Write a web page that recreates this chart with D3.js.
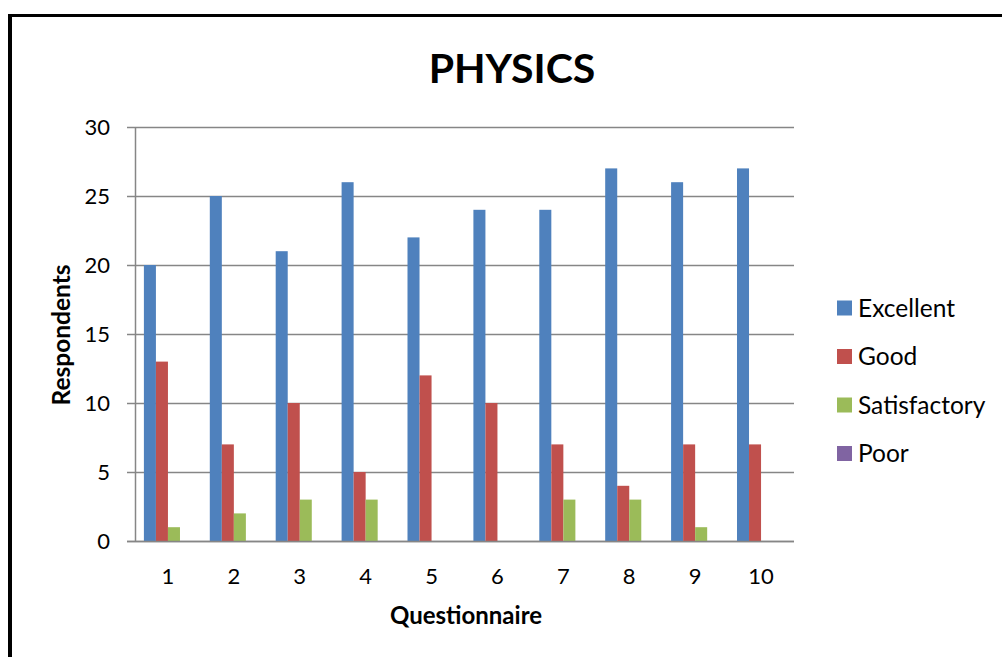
<!DOCTYPE html>
<html><head><meta charset="utf-8">
<script src="https://cdn.jsdelivr.net/npm/d3@7"></script>
<style>body{margin:0;background:#fff}svg{display:block}</style>
</head><body>
<script>
const categories = ["1","2","3","4","5","6","7","8","9","10"];
const seriesNames = ["Excellent","Good","Satisfactory","Poor"];
const excellent = [20,25,21,26,22,24,24,27,26,27];
const good = [13,7,10,5,12,10,7,4,7,7];
const satisfactory = [1,2,3,3,0,0,3,3,1,0];
const poor = [0,0,0,0,0,0,0,0,0,0];
const yTicks = [0,5,10,15,20,25,30];
const colors = ["#4F81BD","#C0504D","#9BBB59","#8064A2"];
const seriesValues = [excellent, good, satisfactory, poor];

(function(){
const W = 1002, H = 657;
const svg = d3.select("body").append("svg").attr("width", W).attr("height", H);
svg.append("rect").attr("width", W).attr("height", H).attr("fill", "#fff");
// frame (top and left visible)
svg.append("line").attr("x1", 8).attr("x2", W).attr("y1", 15.5).attr("y2", 15.5).attr("stroke", "#000").attr("stroke-width", 3);
svg.append("line").attr("x1", 10).attr("x2", 10).attr("y1", 14).attr("y2", H).attr("stroke", "#000").attr("stroke-width", 4);

const pL = 135, pR = 794, pT = 127, pB = 541;
const y = d3.scaleLinear().domain([0, 30]).range([pB, pT]);
const x0 = d3.scaleBand().domain(categories).range([pL, pR]).paddingInner(0.27).paddingOuter(0.135);
const x1 = d3.scaleBand().domain(seriesNames).range([0, x0.bandwidth()]);

// gridlines
const g = svg.append("g");
g.selectAll("line.grid").data(yTicks).join("line")
  .attr("x1", pL - 8).attr("x2", pR)
  .attr("y1", d => Math.round(y(d)) + 0.5).attr("y2", d => Math.round(y(d)) + 0.5)
  .attr("stroke", "#868686").attr("stroke-width", 1.5);
g.append("line").attr("x1", pL + 0.5).attr("x2", pL + 0.5).attr("y1", pT).attr("y2", pB)
  .attr("stroke", "#868686").attr("stroke-width", 1.5);

// bars
seriesNames.forEach((s, si) => {
  svg.append("g").selectAll("rect").data(categories).join("rect")
    .attr("x", c => x0(c) + x1(s))
    .attr("width", x1.bandwidth())
    .attr("y", (c, i) => y(seriesValues[si][i]))
    .attr("height", (c, i) => pB - y(seriesValues[si][i]))
    .attr("fill", colors[si]);
});
const ax = svg.append("g");
ax.append("line").attr("x1", pL - 8).attr("x2", pR).attr("y1", pB + 0.5).attr("y2", pB + 0.5)
  .attr("stroke", "#868686").attr("stroke-width", 1.5);

// y tick labels
svg.append("g").selectAll("text").data(yTicks).join("text")
  .attr("x", 110).attr("y", d => y(d)).attr("dy", "0.36em").attr("text-anchor", "end")
  .attr("font-family", "Lato, sans-serif").attr("font-size", 22).attr("fill", "#000")
  .text(d => d);
// x tick labels
svg.append("g").selectAll("text").data(categories).join("text")
  .attr("x", c => x0(c) + x0.bandwidth() / 2).attr("y", 584).attr("text-anchor", "middle")
  .attr("font-family", "Lato, sans-serif").attr("font-size", 22).attr("fill", "#000")
  .text(c => c);

// title
svg.append("text").attr("x", 512).attr("y", 83).attr("text-anchor", "middle")
  .attr("font-family", "Lato, sans-serif").attr("font-weight", "bold").attr("font-size", 41)
  .text("PHYSICS");
// axis titles
svg.append("text").attr("x", 466).attr("y", 624).attr("text-anchor", "middle")
  .attr("font-family", "Lato, sans-serif").attr("font-weight", "bold").attr("font-size", 24)
  .text("Questionnaire");
svg.append("text").attr("transform", "translate(70,335) rotate(-90)").attr("text-anchor", "middle")
  .attr("font-family", "Lato, sans-serif").attr("font-weight", "bold").attr("font-size", 24.5)
  .text("Respondents");

// legend
const lg = svg.append("g").selectAll("g").data(seriesNames).join("g")
  .attr("transform", (d, i) => `translate(837, ${308 + i * 48.5})`);
lg.append("rect").attr("x", 0).attr("y", -7.5).attr("width", 15).attr("height", 15).attr("fill", (d, i) => colors[i]);
lg.append("text").attr("x", 21).attr("y", 0).attr("dy", "0.36em")
  .attr("font-family", "Lato, sans-serif").attr("font-size", 24.5).text(d => d);
})();
</script>
</body></html>
